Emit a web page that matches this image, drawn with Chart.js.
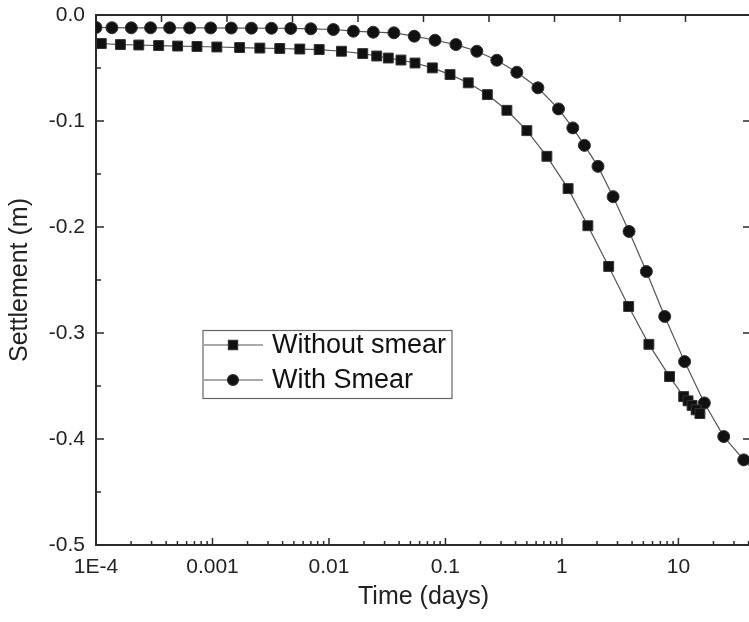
<!DOCTYPE html>
<html>
<head>
<meta charset="utf-8">
<script src="https://cdn.jsdelivr.net/npm/chart.js@4.4.1/dist/chart.umd.min.js"></script>
<style>
  html, body { margin: 0; padding: 0; background: #fff; overflow: hidden; }
  #wrap { width: 751px; height: 622px; }
</style>
</head>
<body>
<div id="wrap"><canvas id="chart" width="751" height="622"></canvas></div>
<script>
"use strict";

// values
var seriesNames = ["Without smear", "With Smear"];

var timeNoSmear = [1.11e-4, 1.62e-4, 2.33e-4, 3.45e-4, 5.02e-4, 7.36e-4, 1.09e-3, 1.71e-3, 2.55e-3, 3.78e-3,
  5.62e-3, 8.24e-3, 0.0128, 0.0195, 0.0257, 0.0323, 0.0415, 0.0548, 0.0772, 0.1095,
  0.157, 0.229, 0.337, 0.500, 0.743, 1.13, 1.67, 2.52, 3.74, 5.58,
  8.40, 11.1, 12.1, 13.1, 14.2, 15.3];
var settleNoSmear = [-0.0269, -0.0279, -0.0283, -0.0288, -0.0293, -0.0297, -0.0302, -0.0307, -0.0312, -0.0316,
  -0.0321, -0.0326, -0.0342, -0.0364, -0.0387, -0.0406, -0.0425, -0.0453, -0.0499, -0.0562,
  -0.0640, -0.0751, -0.0899, -0.1091, -0.1333, -0.1638, -0.1988, -0.2372, -0.2750, -0.3107,
  -0.3411, -0.3600, -0.3640, -0.3683, -0.3725, -0.3760];

var timeSmear = [1.0e-4, 1.37e-4, 2.01e-4, 2.94e-4, 4.29e-4, 6.37e-4, 9.65e-4, 1.45e-3, 2.16e-3, 3.21e-3,
  4.70e-3, 6.99e-3, 0.0109, 0.0162, 0.0240, 0.0361, 0.054, 0.0814, 0.123, 0.186,
  0.276, 0.410, 0.622, 0.935, 1.24, 1.56, 2.04, 2.75, 3.77, 5.31,
  7.63, 11.3, 16.7, 24.5, 36.4, 55];
var settleSmear = [-0.0118, -0.0120, -0.0121, -0.0121, -0.0121, -0.0122, -0.0122, -0.0123, -0.0124, -0.0125,
  -0.0127, -0.0130, -0.0137, -0.0153, -0.0162, -0.0168, -0.0200, -0.0238, -0.0279, -0.0342,
  -0.0427, -0.0540, -0.0687, -0.0886, -0.1065, -0.1230, -0.1428, -0.1714, -0.2042, -0.2420,
  -0.2844, -0.3270, -0.3660, -0.3977, -0.4197, -0.4400];

var xTickValues = [1e-4, 0.001, 0.01, 0.1, 1, 10];
var xTickLabels = ["1E-4", "0.001", "0.01", "0.1", "1", "10"];

var FONT = "'Liberation Sans', Arial, sans-serif";
var AXIS = "#2a2a2a";

function pairs(xs, ys) {
  return xs.map(function (x, i) { return { x: x, y: ys[i] }; });
}

// inward tick marks, the way the original plot draws them
var insideTicks = {
  id: "insideTicks",
  afterDatasetsDraw: function (chart) {
    var ctx = chart.ctx, a = chart.chartArea;
    var x = chart.scales.x, y = chart.scales.y, top = chart.scales.x2;
    ctx.save();
    ctx.strokeStyle = AXIS;
    ctx.lineWidth = 1.5;
    ctx.beginPath();
    xTickValues.forEach(function (v) {
      var px = x.getPixelForValue(v);
      ctx.moveTo(px, a.bottom); ctx.lineTo(px, a.bottom - 7);
      for (var k = 2; k < 10; k++) {
        if (v * k > x.max) break;
        var pm = x.getPixelForValue(v * k);
        ctx.moveTo(pm, a.bottom); ctx.lineTo(pm, a.bottom - 4);
      }
    });
    y.ticks.forEach(function (t) {
      var py = y.getPixelForValue(t.value);
      ctx.moveTo(a.left, py); ctx.lineTo(a.left + 8, py);
      ctx.moveTo(a.right, py); ctx.lineTo(a.right - 8, py);
      if (t.value > y.min + 0.01) {
        var pm = y.getPixelForValue(t.value - 0.05);
        ctx.moveTo(a.left, pm); ctx.lineTo(a.left + 5, pm);
      }
    });
    top.ticks.forEach(function (t) {
      var px = top.getPixelForValue(t.value);
      ctx.moveTo(px, a.top); ctx.lineTo(px, a.top + 7);
    });
    ctx.stroke();
    ctx.restore();
  }
};

// boxed legend sitting inside the plot
var boxLegend = {
  id: "boxLegend",
  afterDraw: function (chart) {
    var ctx = chart.ctx;
    ctx.save();
    ctx.strokeStyle = "#666";
    ctx.lineWidth = 1.2;
    ctx.strokeRect(203, 330.5, 249, 68);
    chart.data.datasets.forEach(function (ds, i) {
      var cy = 345 + i * 35;
      ctx.strokeStyle = ds.borderColor;
      ctx.lineWidth = ds.borderWidth;
      ctx.beginPath();
      ctx.moveTo(204, cy); ctx.lineTo(263, cy);
      ctx.stroke();
      ctx.fillStyle = ds.pointBackgroundColor;
      ctx.strokeStyle = ds.pointBorderColor;
      Chart.helpers.drawPoint(ctx, {
        pointStyle: ds.pointStyle, radius: ds.pointRadius - 0.5, borderWidth: 1, rotation: 0
      }, 233, cy);
      ctx.fillStyle = "#111";
      ctx.font = "27px " + FONT;
      ctx.textBaseline = "middle";
      ctx.fillText(ds.label, 272, cy + 1);
    });
    ctx.restore();
  }
};

var chart = new Chart(document.getElementById("chart"), {
  type: "line",
  data: {
    datasets: [{
      label: seriesNames[0],
      data: pairs(timeNoSmear, settleNoSmear),
      borderColor: "#555",
      borderWidth: 1.2,
      pointStyle: "rect",
      pointRadius: 7,
      pointBackgroundColor: "#111",
      pointBorderColor: "#333",
      pointBorderWidth: 1,
      tension: 0
    }, {
      label: seriesNames[1],
      data: pairs(timeSmear, settleSmear),
      borderColor: "#555",
      borderWidth: 1.2,
      pointStyle: "circle",
      pointRadius: 6,
      pointBackgroundColor: "#111",
      pointBorderColor: "#333",
      pointBorderWidth: 1,
      tension: 0
    }]
  },
  options: {
    responsive: false,
    animation: false,
    devicePixelRatio: 1,
    layout: { padding: 0, autoPadding: false },
    plugins: { legend: { display: false }, tooltip: { enabled: false } },
    scales: {
      x: {
        type: "logarithmic",
        position: "bottom",
        min: 1e-4,
        max: 42,
        grid: { display: false, drawTicks: false },
        border: { display: true, color: AXIS, width: 2 },
        afterBuildTicks: function (scale) {
          scale.ticks = xTickValues.map(function (v) { return { value: v }; });
        },
        afterFit: function (scale) {
          scale.height = 77;
          scale.paddingLeft = 0;
          scale.paddingRight = 0;
        },
        ticks: {
          autoSkip: false,
          maxRotation: 0,
          padding: 10,
          color: "#222",
          font: { family: FONT, size: 21 },
          callback: function (v) {
            var i = xTickValues.indexOf(v);
            return i >= 0 ? xTickLabels[i] : "";
          }
        },
        title: {
          display: true,
          text: "Time (days)",
          color: "#222",
          font: { family: FONT, size: 25 },
          padding: { top: 0, bottom: 10 }
        }
      },
      x2: {
        type: "linear",
        position: "top",
        min: 0,
        max: 10,
        ticks: { display: false, stepSize: 1 },
        grid: { display: false, drawTicks: false },
        border: { display: true, color: AXIS, width: 2 },
        afterFit: function (scale) { scale.height = 15; }
      },
      y: {
        type: "linear",
        position: "left",
        min: -0.5,
        max: 0,
        grid: { display: false, drawTicks: false },
        border: { display: true, color: AXIS, width: 2 },
        afterFit: function (scale) {
          scale.width = 96;
          scale.paddingTop = 0;
          scale.paddingBottom = 0;
        },
        ticks: {
          stepSize: 0.1,
          padding: 11,
          color: "#222",
          font: { family: FONT, size: 21 },
          callback: function (v) { return Number(v).toFixed(1); }
        },
        title: {
          display: true,
          text: "Settlement (m)",
          color: "#222",
          font: { family: FONT, size: 25 },
          padding: { top: 5, bottom: 0 }
        }
      }
    }
  },
  plugins: [insideTicks, boxLegend]
});
</script>
</body>
</html>
